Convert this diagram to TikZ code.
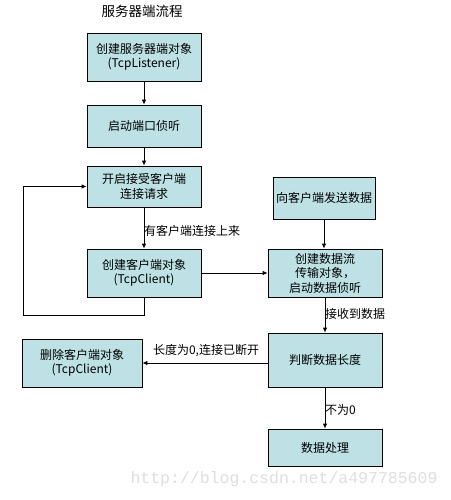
\documentclass[tikz,border=0pt]{standalone}
\usepackage{fontspec}
\setmainfont{Noto Sans CJK SC}
\newfontfamily\wmfont{Liberation Mono}
\usetikzlibrary{arrows.meta}
\definecolor{boxfill}{RGB}{189,225,229}
\definecolor{wmgray}{RGB}{222,222,222}
\tikzset{
  flowbox/.style={draw=black, line width=0.8pt, fill=boxfill, inner sep=0pt, align=center,
    font=\fontsize{12}{14.5}\selectfont},
  conn/.style={line width=0.8pt, -{Latex[length=5pt,width=4.5pt]}},
  plainline/.style={line width=0.8pt},
  lbl/.style={inner sep=0pt, font=\fontsize{12}{14}\selectfont}
}
\begin{document}
\begin{tikzpicture}[x=1pt,y=-1pt]
\useasboundingbox (0,0) rectangle (450,500);
\node[lbl, font=\fontsize{13.5}{15}\selectfont] (title) at (142,11) {服务器端流程};
\node[flowbox, minimum width=114pt, minimum height=48pt] (b1) at (144,57) {创建服务器端对象\\(TcpListener)};
\node[flowbox, minimum width=114pt, minimum height=42pt] (b2) at (144,126) {启动端口侦听};
\node[flowbox, minimum width=114pt, minimum height=41pt] (b3) at (144,186.5) {开启接受客户端\\连接请求};
\node[flowbox, minimum width=114pt, minimum height=48pt] (b4) at (144,273) {创建客户端对象\\(TcpClient)};
\node[flowbox, minimum width=102pt, minimum height=42pt] (b5) at (324,198) {向客户端发送数据};
\node[flowbox, minimum width=114pt, minimum height=48pt] (b6) at (325,273) {创建数据流\\传输对象，\\启动数据侦听};
\node[flowbox, minimum width=114pt, minimum height=54pt] (b7) at (325,360) {判断数据长度};
\node[flowbox, minimum width=120pt, minimum height=48pt] (b8) at (82,363) {删除客户端对象\\(TcpClient)};
\node[flowbox, minimum width=114pt, minimum height=37pt] (b9) at (325,447.5) {数据处理};

\coordinate (l1) at (144,315);
\coordinate (l2) at (23,315);
\coordinate (l3) at (23,186.5);

\draw[conn] (b1) -- (b2);
\draw[conn] (b2) -- (b3);
\draw[conn] (b3) -- (b4);
\draw[plainline] (b4.south) -- (l1) -- (l2) -- (l3);
\draw[conn] (l3) -- (b3.west);
\draw[conn] (b4) -- (b6);
\draw[conn] (b5.south) -- (b5.south |- b6.north);
\draw[conn] (b6) -- (b7);
\draw[conn] (b7.west |- b8.east) -- (b8.east);
\draw[conn] (b7) -- (b9);

\node[lbl, anchor=west] (t1) at (144,231) {有客户端连接上来};
\node[lbl, anchor=west] (t2) at (325,314) {接收到数据};
\node[lbl] (t3) at (206,351) {长度为0,连接已断开};
\node[lbl, anchor=west] (t4) at (325,410) {不为0};

\node[inner sep=0pt, text=wmgray, font=\wmfont\fontsize{16.5}{18}\selectfont] (wm) at (284,479) {http://blog.csdn.net/a497785609};
\end{tikzpicture}
\end{document}
